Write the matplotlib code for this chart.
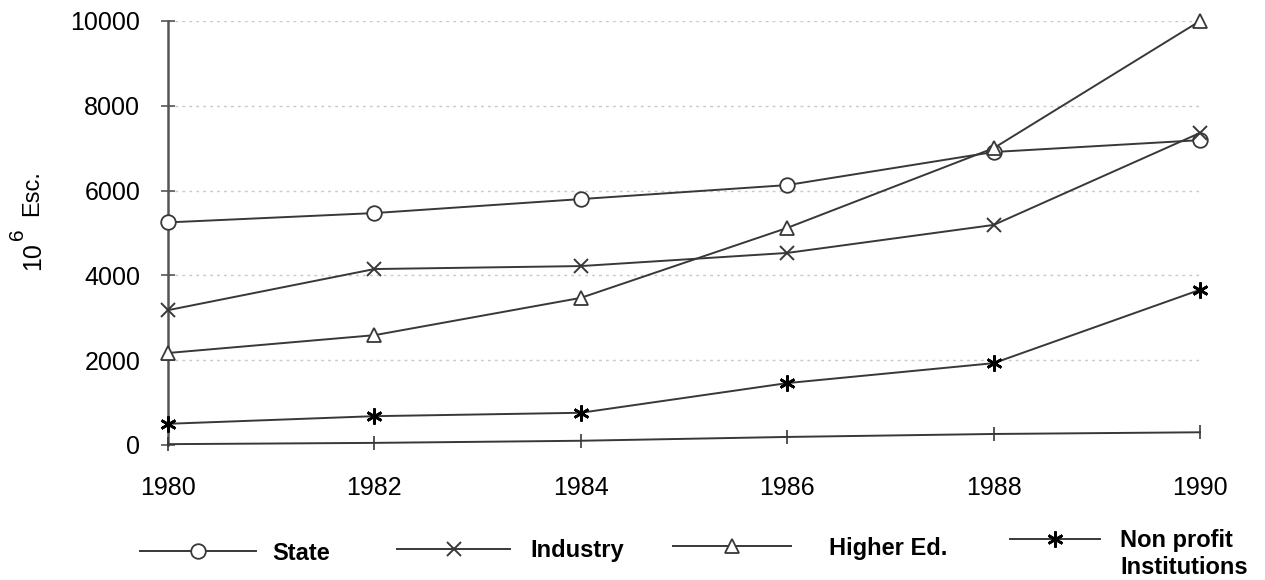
import matplotlib
matplotlib.use("Agg")
import matplotlib.pyplot as plt

plt.rcParams['font.family'] = ['Liberation Sans', 'DejaVu Sans']
plt.rcParams['mathtext.default'] = 'regular'

years = [1980, 1982, 1984, 1986, 1988, 1990]
state = [5250, 5470, 5800, 6130, 6910, 7190]
industry = [3180, 4150, 4220, 4530, 5190, 7360]
higher_ed = [2170, 2590, 3470, 5120, 7000, 10000]
non_profit = [500, 680, 760, 1460, 1930, 3660]
other = [20, 50, 100, 190, 260, 300]

labels = ['State', 'Industry', 'Higher Ed.', 'Non profit']
label_extra = 'Institutions'
y_ticks = [0, 2000, 4000, 6000, 8000, 10000]

W, H = 1265, 580
fig = plt.figure(figsize=(W / 100, H / 100), dpi=100)
ax = fig.add_axes([168 / W, 135 / H, (1200 - 168) / W, (445 - 21) / H])

lc = '#383838'
lw = 1.4
kw = dict(color=lc, lw=lw, clip_on=False, zorder=3)
h1, = ax.plot(years, state, marker='o', ms=10.5, mfc='white', mec=lc, mew=1.3, **kw)
h2, = ax.plot(years, industry, marker='x', ms=9.5, mec=lc, mew=1.4, **kw)
h3, = ax.plot(years, higher_ed, marker='^', ms=10, mfc='white', mec=lc, mew=1.3, **kw)
h4, = ax.plot(years, non_profit, marker=(6, 2, 0), ms=11.5, mec='black', mew=1.9, **kw)
ax.plot(years, other, marker='|', ms=10, mec=lc, mew=1.2, **kw)

ax.set_xlim(1980, 1990)
ax.set_ylim(0, 10000)
ax.set_xticks(years)
ax.set_yticks(y_ticks)
for y in y_ticks[1:]:
    ax.axhline(y, color='#c8c8c8', lw=1.0, ls=(0, (2, 3)), zorder=1)

for s in ['top', 'right', 'bottom']:
    ax.spines[s].set_visible(False)
ax.spines['left'].set_color('#555555')
ax.spines['left'].set_linewidth(1.8)
ax.tick_params(axis='y', direction='inout', length=10, width=1.2, color='#555555',
               labelsize=18, pad=15)
ax.tick_params(axis='x', length=0, labelsize=18, pad=22)

# y-axis label: "10^6 Esc."
fig.text(33 / W, 1 - 256 / H, '10', rotation=90, ha='center', va='center',
         fontsize=18)
fig.text(18 / W, 1 - 234 / H, '6', rotation=90, ha='center', va='center',
         fontsize=15)
fig.text(32 / W, 1 - 193 / H, 'Esc.', rotation=90, ha='center', va='center',
         fontsize=17)

handles = [h1, h2, h3, h4]
xs = [140, 397, 673, 1010]
pads = [0.72, 0.85, 1.6, 0.85]
hls = [4.9, 4.8, 5.0, 3.8]
ys = [553, 551, 548, 541]
for h, lab, x, p, hl, yy in zip(handles, labels, xs, pads, hls, ys):
    fig.legend(handles=[h], labels=[lab], loc='center left',
               bbox_to_anchor=(x / W, 1 - yy / H), frameon=False,
               handlelength=hl, handletextpad=p, borderpad=0, borderaxespad=0,
               prop={'size': 17, 'weight': 'bold'})
fig.text(1120 / W, 1 - 568 / H, label_extra, ha='left', va='center',
         fontsize=17, fontweight='bold')

fig.savefig('out.png', dpi=100)
